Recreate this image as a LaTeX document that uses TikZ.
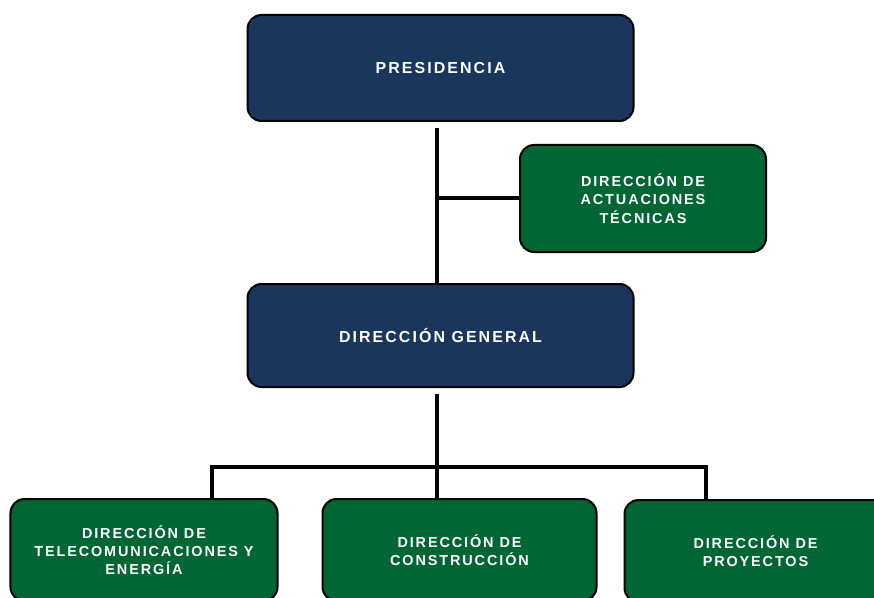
\documentclass[tikz,border=0pt]{standalone}
\usepackage{fontspec}
\newfontfamily\orgfont[LetterSpace=13]{Liberation Sans}
\usetikzlibrary{positioning}
\definecolor{navy}{HTML}{1B365D}
\definecolor{forest}{HTML}{006633}

\begin{document}
\begin{tikzpicture}[x=1bp,y=-1bp,
  box/.style={draw=black,line width=2bp,rounded corners=14bp,text=white,
              align=center,inner sep=0pt,
              font=\orgfont\bfseries\fontsize{14.5}{18.3}\selectfont},
  head/.style={box,fill=navy,minimum width=386bp,minimum height=106bp,
               font=\orgfont\bfseries\fontsize{16}{18}\selectfont},
  unit/.style={box,fill=forest,minimum height=102bp},
  link/.style={draw=black,line width=4bp}]
\useasboundingbox (0,0) rectangle (874,598);
\node[head] (pres) at (440.5,68) {PRESIDENCIA};
\node[unit,minimum width=246bp,minimum height=107bp] (act) at (643,198.5)
  {DIRECCIÓN DE\\ACTUACIONES\\TÉCNICAS};
\node[head,minimum height=103bp,below=161bp of pres] (dg) {DIRECCIÓN GENERAL};
\node[unit,minimum width=274bp,below=110bp of dg,xshift=19bp] (cons)
  {DIRECCIÓN DE\\CONSTRUCCIÓN};
\node[unit,minimum width=267bp,left=43bp of cons] (tele)
  {DIRECCIÓN DE\\TELECOMUNICACIONES Y\\ENERGÍA};
\node[unit,minimum width=262bp,right=26bp of cons,yshift=-1bp] (proy)
  {DIRECCIÓN DE\\PROYECTOS};
% connectors
\coordinate (s1) at (437,128);
\coordinate (s2) at (437,394);
\coordinate (bl) at (212,467);
\coordinate (br) at (706,467);
\draw[link] (s1) -- (s1 |- dg.north);
\draw[link] (act.west) -- (act.west -| s1);
\draw[link] (s2) -- (s2 |- cons.north);
\draw[link] (tele.north -| bl) -- (bl) -- (br) -- (proy.north -| br);
\end{tikzpicture}
\end{document}
